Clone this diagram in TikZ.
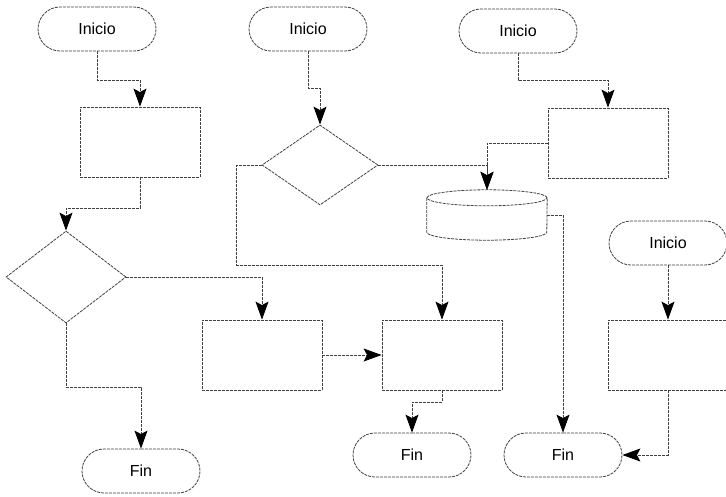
\documentclass[tikz,border=0pt]{standalone}
\usepackage{fontspec}
\setmainfont{Liberation Sans}
\usepackage{tikz}
\usetikzlibrary{shapes.geometric}
\usetikzlibrary{shapes.misc}
\usetikzlibrary{arrows.meta}

\tikzset{
  outline/.style={draw=black!75, line width=0.8pt, dash pattern=on 3pt off 1pt},
  block/.style={outline, inner sep=0pt},
  terminal/.style={block, rounded rectangle, minimum width=118pt, minimum height=44pt,
    font=\fontsize{16}{19}\selectfont},
  process/.style={block, rectangle, minimum width=120pt, minimum height=70pt},
  decision/.style={block, diamond},
  % the drum itself is drawn from the anchors of this box
  database/.style={rectangle, inner sep=0pt, minimum width=120pt, minimum height=50pt},
  tip/.tip={Stealth[length=18pt, width=13pt, inset=3.5pt]},
  flow/.style={outline, -{tip[black]}},
}

\begin{document}
\begin{tikzpicture}[x=1pt, y=-1pt]
  \useasboundingbox (0,0) rectangle (726,496);

  % Define nodes
  \node[terminal] (ini1) at (97,29) {Inicio};
  \node[terminal] (ini2) at (308,29) {Inicio};
  \node[terminal] (ini3) at (518,31) {Inicio};
  \node[terminal] (ini4) at (668,243) {Inicio};

  \node[process] (box1) at (140,142) {};
  \node[process] (box2) at (262,355) {};
  \node[process] (box3) at (442,355) {};
  \node[process] (box4) at (608,143) {};
  \node[process] (box5) at (668,355) {};

  \node[decision, minimum width=120pt, minimum height=92pt] (dec1) at (66,277) {};
  \node[decision, minimum width=116pt, minimum height=80pt] (dec2) at (320,165) {};

  \node[database] (db) at (487,215) {};
  \draw[outline] ([yshift=-8pt]db.north west) -- ([yshift=8pt]db.south west)
    arc[start angle=180, end angle=360, x radius=60pt, y radius=8pt]
    -- ([yshift=-8pt]db.north east);
  \draw[outline] ([yshift=-8pt]db.north) ellipse[x radius=60pt, y radius=8pt];

  \node[terminal] (fin1) at (141,471) {Fin};
  \node[terminal] (fin2) at (412,455) {Fin};
  \node[terminal] (fin3) at (563,455) {Fin};

  % Connect the nodes
  \draw[flow] (ini1.south) -- ++(0,29) -| (box1.north);
  \draw[flow] (box1.south) -- ++(0,31) -| (dec1.north);
  \draw[flow] (dec1.east) -| (box2.north);
  \draw[flow] (dec1.south) -- ++(0,64) -| (fin1.north);

  \draw[flow] (ini2.south) -- ++(0,37) -| (dec2.north);
  \draw[flow] (dec2.west) -- ++(-25,0) -- ++(0,100) -| (box3.north);
  \draw[flow] (dec2.east) -| (db.north);
  \draw[flow] (box2.east) -- (box3.west);
  \draw[flow] (box3.south) -- ++(0,12) -| (fin2.north);

  \draw[flow] (ini3.south) -- ++(0,27) -| (box4.north);
  \draw[flow] (box4.west) -| (db.north);
  \draw[flow] (db.east) -| (fin3.north);

  \draw[flow] (ini4.south) -- (box5.north);
  \draw[flow] (box5.south) |- (fin3.east);

\end{tikzpicture}
\end{document}
